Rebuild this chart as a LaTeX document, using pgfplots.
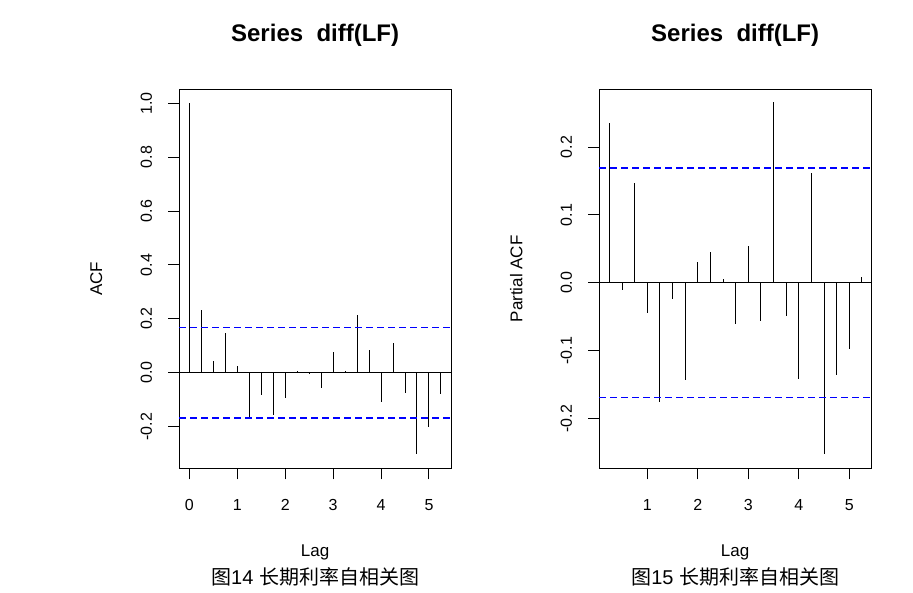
\documentclass[border=0pt]{standalone}
\usepackage{fontspec}
\setmainfont{Liberation Sans}
\newfontfamily\cjk{Noto Sans CJK SC}
\usepackage{pgfplots}
\pgfplotsset{compat=1.18}
\definecolor{rblue}{RGB}{0,0,255}

% R acf/pacf look
\pgfplotsset{
  racf/.style={
    scale only axis,
    width=271.7pt, height=379pt,
    axis line style={line width=1pt},
    tick align=outside,
    major tick length=11pt,
    xtick pos=bottom, ytick pos=left,
    every tick/.style={black, line width=1pt},
    tick label style={font=\fontsize{16}{19}\selectfont},
    yticklabel style={rotate=90, anchor=center, yshift=22pt},
    xticklabel style={anchor=center, yshift=-26pt},
    title style={at={(axis description cs:0.5,1)}, anchor=center, yshift=48pt,
      font=\fontsize{24}{29}\selectfont\bfseries},
    xlabel style={at={(axis description cs:0.5,0)}, anchor=center, yshift=-84pt,
      font=\fontsize{17}{20}\selectfont},
    ylabel style={at={(axis description cs:0,0.5)}, anchor=center, yshift=83pt,
      font=\fontsize{17}{20}\selectfont},
    clip=false,
  },
  stem/.style={ycomb, black, line width=1pt, mark=none},
  conflim/.style={color=rblue, line width=1.4pt, dash pattern=on 6.5pt off 4.5pt, mark=none},
}

\begin{document}
\begin{tikzpicture}[x=1pt,y=1pt]
\path[use as bounding box] (0,0) rectangle (913,592);

% ---- ACF ----
\begin{axis}[racf,
    at={(179.3pt,123.7pt)}, anchor=south west,
    xmin=-0.21, xmax=5.46, ymin=-0.355, ymax=1.052,
    xtick={0,1,2,3,4,5}, xticklabels={0,1,2,3,4,5},
    ytick={-0.2,0,0.2,0.4,0.6,0.8,1.0},
    yticklabels={-0.2,0.0,0.2,0.4,0.6,0.8,1.0},
    title={Series\ \ diff(LF)},
    xlabel={Lag}, ylabel={ACF},
]
\addplot[black, line width=1pt] coordinates {(-0.21,0) (5.46,0)};
\addplot[stem] coordinates {
  (0,1.000) (0.25,0.232) (0.5,0.043) (0.75,0.146) (1.0,0.026)
  (1.25,-0.169) (1.5,-0.083) (1.75,-0.156) (2.0,-0.093) (2.25,0.006)
  (2.5,-0.002) (2.75,-0.058) (3.0,0.075) (3.25,0.006) (3.5,0.214)
  (3.75,0.084) (4.0,-0.108) (4.25,0.109) (4.5,-0.077) (4.75,-0.303)
  (5.0,-0.200) (5.25,-0.080)
};
\addplot[conflim] coordinates {(-0.21,0.168) (5.46,0.168)};
\addplot[conflim] coordinates {(-0.21,-0.168) (5.46,-0.168)};
\node[font=\fontsize{20}{24}\selectfont] at (axis description cs:0.5,0) [yshift=-109pt]
  {{\cjk 图}14 {\cjk 长期利率自相关图}};
\end{axis}

% ---- PACF ----
\begin{axis}[racf,
    at={(599.3pt,123.7pt)}, anchor=south west,
    xmin=0.05, xmax=5.43, ymin=-0.273, ymax=0.285,
    xtick={1,2,3,4,5}, xticklabels={1,2,3,4,5},
    ytick={-0.2,-0.1,0,0.1,0.2},
    yticklabels={-0.2,-0.1,0.0,0.1,0.2},
    title={Series\ \ diff(LF)},
    xlabel={Lag}, ylabel={Partial ACF},
]
\addplot[black, line width=1pt] coordinates {(0.05,0) (5.43,0)};
\addplot[stem] coordinates {
  (0.25,0.235) (0.5,-0.011) (0.75,0.147) (1.0,-0.044) (1.25,-0.175)
  (1.5,-0.024) (1.75,-0.143) (2.0,0.030) (2.25,0.046) (2.5,0.005)
  (2.75,-0.061) (3.0,0.054) (3.25,-0.056) (3.5,0.266) (3.75,-0.049)
  (4.0,-0.142) (4.25,0.162) (4.5,-0.252) (4.75,-0.136) (5.0,-0.098)
  (5.25,0.008)
};
\addplot[conflim] coordinates {(0.05,0.169) (5.43,0.169)};
\addplot[conflim] coordinates {(0.05,-0.169) (5.43,-0.169)};
\node[font=\fontsize{20}{24}\selectfont] at (axis description cs:0.5,0) [yshift=-109pt]
  {{\cjk 图}15 {\cjk 长期利率自相关图}};
\end{axis}
\end{tikzpicture}
\end{document}
